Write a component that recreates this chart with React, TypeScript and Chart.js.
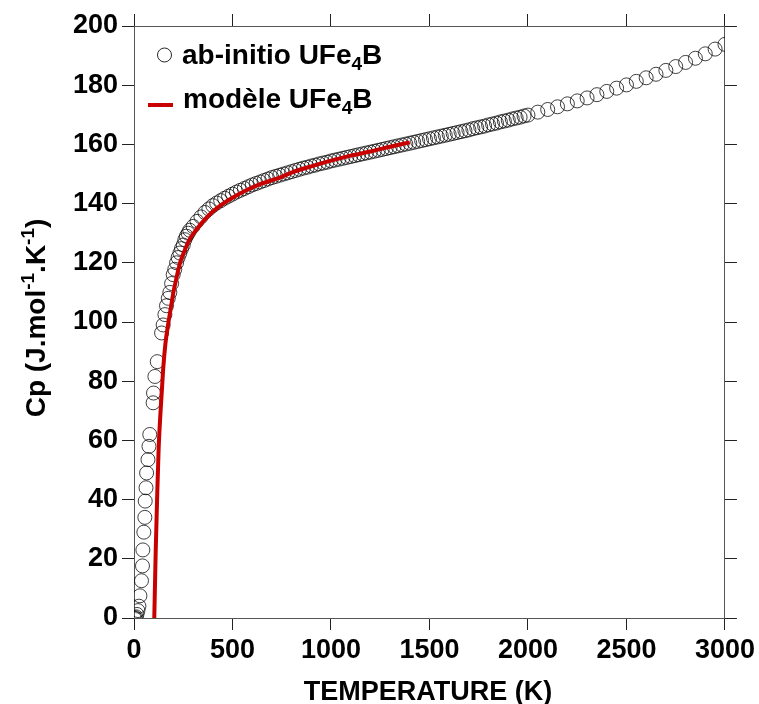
import React, { useEffect, useRef } from "react";
import { Chart, registerables } from "chart.js";

Chart.register(...registerables);

// ab-initio Cp data (T in K, Cp in J/mol/K)
const abInitioT = [
  0, 5, 10, 15, 20, 25, 30, 38, 43, 45, 50, 55, 57, 61, 64, 71, 76, 80, 97, 99, 106, 118,
  140, 148, 157, 165, 174, 182, 191, 199, 207, 216, 224, 233, 241, 250, 258, 266, 275, 283,
  300, 320, 340, 360, 380, 400, 420, 440, 460, 480, 500, 520, 540, 560, 580, 600, 620, 640, 660, 680,
  700, 720, 740, 760, 780, 800, 820, 840, 860, 880, 900, 920, 940, 960, 980, 1000, 1020, 1040, 1060, 1080,
  1100, 1120, 1140, 1160, 1180, 1200, 1220, 1240, 1260, 1280, 1300, 1320, 1340, 1360, 1380, 1400, 1420, 1440, 1460, 1480,
  1500, 1520, 1540, 1560, 1580, 1600, 1620, 1640, 1660, 1680, 1700, 1720, 1740, 1760, 1780, 1800, 1820, 1840, 1860, 1880,
  1900, 1920, 1940, 1960, 1980, 2000,
  2050, 2100, 2150, 2200, 2250, 2300, 2350, 2400, 2450, 2500, 2550, 2600, 2650, 2700, 2750, 2800, 2850, 2900, 2950, 3000,
];
const abInitioCp = [
  0, 0.1, 0.4, 1.2, 2.5, 4, 7.5, 12.6, 17.6, 23, 29, 34, 39.5, 44, 49, 53.5, 58, 62, 72.7, 76, 81.6, 86.6,
  96.3, 99, 102.5, 105.5, 108, 110, 113, 116, 117.8, 120, 121.8, 123.3, 124.8, 126, 127.8, 129, 130, 131,
  132.3, 134, 135.5, 137, 138.2, 139.3, 140.2, 141, 141.8, 142.5, 143.2, 143.9, 144.5, 145.1, 145.7, 146.3, 146.8, 147.3, 147.8, 148.3,
  148.8, 149.2, 149.6, 150.0, 150.4, 150.8, 151.2, 151.6, 152.0, 152.3, 152.7, 153.0, 153.4, 153.7, 154.0, 154.4, 154.7, 155.0, 155.3, 155.6,
  155.9, 156.2, 156.5, 156.8, 157.1, 157.4, 157.7, 158.0, 158.3, 158.6, 158.9, 159.2, 159.5, 159.8, 160.1, 160.4, 160.7, 161.0, 161.3, 161.6,
  161.9, 162.2, 162.5, 162.8, 163.1, 163.4, 163.7, 164.0, 164.3, 164.6, 164.9, 165.3, 165.6, 165.9, 166.2, 166.6, 166.9, 167.2, 167.6, 167.9,
  168.2, 168.6, 168.9, 169.2, 169.6, 169.9,
  170.9, 171.8, 172.7, 173.7, 174.7, 175.7, 176.8, 177.9, 179.0, 180.1, 181.3, 182.5, 183.7, 185.0, 186.3, 187.7, 189.1, 190.6, 192.2, 193.8,
];

// model curve
const modelT = [103, 110, 118, 125, 135, 148, 160, 174, 190, 200, 216, 233, 250, 283, 320, 351, 400, 452, 500, 570, 650, 740, 800, 900, 1000, 1100, 1200, 1300, 1400];
const modelCp = [0, 22, 42, 57, 70, 84, 93, 99.5, 106, 110, 115, 119.8, 123, 128, 131.5, 134, 137.3, 140, 142, 144.5, 146.8, 148.8, 150.5, 152.6, 154.5, 156.2, 157.6, 159.2, 160.7];

const xMin = 0, xMax = 3000, xStep = 500;
const yMin = 0, yMax = 200, yStep = 20;

const FONT = "'Liberation Sans', Arial, sans-serif";
const RED = "#c80000";

const decorPlugin = {
  id: "decor",
  afterDraw(chart: any) {
    const ctx = chart.ctx as CanvasRenderingContext2D;
    ctx.save();
    ctx.fillStyle = "#000";
    // legend
    ctx.beginPath();
    ctx.arc(164.5, 55, 7, 0, Math.PI * 2);
    ctx.strokeStyle = "rgba(0,0,0,0.85)";
    ctx.lineWidth = 1;
    ctx.stroke();
    ctx.beginPath();
    ctx.moveTo(148, 105);
    ctx.lineTo(173, 105);
    ctx.strokeStyle = RED;
    ctx.lineWidth = 4;
    ctx.stroke();

    const drawSubText = (x: number, y: number, a: string, sub: string, b: string) => {
      ctx.textBaseline = "alphabetic";
      ctx.textAlign = "left";
      ctx.font = `bold 28px ${FONT}`;
      ctx.fillText(a, x, y);
      let w = ctx.measureText(a).width;
      ctx.font = `bold 19px ${FONT}`;
      ctx.fillText(sub, x + w, y + 6);
      w += ctx.measureText(sub).width;
      ctx.font = `bold 28px ${FONT}`;
      ctx.fillText(b, x + w, y);
    };
    drawSubText(182, 64, "ab-initio UFe", "4", "B");
    drawSubText(183, 108, "modèle UFe", "4", "B");

    // x title
    ctx.font = `bold 27px ${FONT}`;
    ctx.textAlign = "center";
    ctx.textBaseline = "alphabetic";
    ctx.fillText("TEMPERATURE (K)", 428, 700);

    // y title with superscripts
    const parts: [string, boolean][] = [["Cp (J.mol", false], ["-1", true], [".K", false], ["-1", true], [")", false]];
    const big = `bold 28px ${FONT}`;
    const small = `bold 19px ${FONT}`;
    let total = 0;
    for (const [t, s] of parts) {
      ctx.font = s ? small : big;
      total += ctx.measureText(t).width;
    }
    ctx.translate(45, 318);
    ctx.rotate(-Math.PI / 2);
    ctx.textAlign = "left";
    let x = -total / 2;
    for (const [t, s] of parts) {
      ctx.font = s ? small : big;
      ctx.fillText(t, x, s ? -11 : 0);
      x += ctx.measureText(t).width;
    }
    ctx.restore();
  },
};

export default function App() {
  const ref = useRef<HTMLCanvasElement>(null);
  useEffect(() => {
    if (!ref.current) return;
    const scatterData = abInitioT.map((t, i) => ({ x: t, y: abInitioCp[i] }));
    const lineData = modelT.map((t, i) => ({ x: t, y: modelCp[i] }));
    const axisBase = (pos: string) => ({
      type: "linear" as const,
      position: pos,
      grid: {
        drawOnChartArea: false,
        drawTicks: true,
        tickLength: 12,
        color: "#222",
        lineWidth: 1,
      },
      border: { display: true, color: "#555", width: 1 },
    });
    const tickFont = { family: FONT, size: 27, weight: "bold" };
    const chart = new Chart(ref.current, {
      type: "scatter",
      data: {
        datasets: [
          {
            label: "modèle UFe4B",
            data: lineData,
            showLine: true,
            borderColor: RED,
            backgroundColor: RED,
            borderWidth: 4,
            pointRadius: 0,
            cubicInterpolationMode: "monotone",
            borderCapStyle: "butt",
            order: 0,
            clip: 0,
          } as any,
          {
            label: "ab-initio UFe4B",
            data: scatterData,
            pointRadius: 7,
            pointStyle: "circle",
            borderColor: "rgba(0,0,0,0.75)",
            backgroundColor: "rgba(0,0,0,0)",
            borderWidth: 1,
            order: 1,
            clip: 0,
          } as any,
        ],
      },
      options: {
        responsive: false,
        animation: false,
        layout: { padding: 0 },
        plugins: { legend: { display: false }, tooltip: { enabled: false } },
        scales: {
          x: {
            ...axisBase("bottom"),
            min: xMin,
            max: xMax,
            ticks: { stepSize: xStep, color: "#000", font: tickFont, padding: 4, maxRotation: 0, callback: (v: any) => String(v) },
            afterFit: (s: any) => { s.height = 86; },
          },
          x2: {
            ...axisBase("top"),
            min: xMin,
            max: xMax,
            ticks: { stepSize: xStep, display: false },
            afterFit: (s: any) => { s.height = 26; },
          },
          y: {
            ...axisBase("left"),
            min: yMin,
            max: yMax,
            ticks: { stepSize: yStep, color: "#000", font: tickFont, padding: 4, callback: (v: any) => String(v) },
            afterFit: (s: any) => { s.width = 134; },
          },
          y2: {
            ...axisBase("right"),
            min: yMin,
            max: yMax,
            ticks: { stepSize: yStep, display: false },
            afterFit: (s: any) => { s.width = 32; },
          },
        } as any,
      },
      plugins: [decorPlugin],
    });
    return () => chart.destroy();
  }, []);
  return (
    <div style={{ position: "fixed", left: 0, top: 0, width: 759, height: 704, background: "#fff" }}>
      <canvas ref={ref} width={759} height={704} style={{ display: "block" }} />
    </div>
  );
}
